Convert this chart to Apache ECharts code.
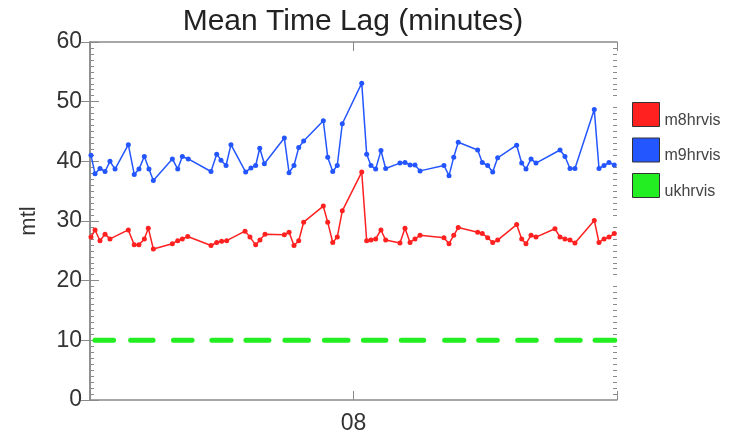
<!DOCTYPE html>
<html>
<head>
<meta charset="utf-8">
<script src="https://cdn.jsdelivr.net/npm/echarts@6/dist/echarts.min.js"></script>
<style>
html,body{margin:0;padding:0;background:#fff;}
#chart{width:744px;height:440px;}
</style>
</head>
<body>
<div id="chart"></div>
<script>
// x values: hours from start of plotted window (tick "08" at hour 24)
var xTickLabels = {24: '08'};
var m9Times = [0.09,0.46,0.91,1.37,1.82,2.28,3.49,4.03,4.46,4.95,5.37,5.77,7.50,7.99,8.41,8.95,11.02,11.54,11.93,12.39,12.84,14.18,14.66,15.09,15.46,15.88,17.70,18.13,18.58,19.01,19.46,21.25,21.65,22.11,22.52,22.98,24.75,25.20,25.59,26.02,26.50,26.93,28.23,28.69,29.15,29.60,30.06,32.24,32.70,33.13,33.54,35.31,35.73,36.22,36.68,37.13,38.86,39.32,39.71,40.17,40.62,42.81,43.26,43.72,44.17,45.93,46.36,46.82,47.27,47.75];
var m9Values = [41.0,37.9,38.8,38.3,40.0,38.7,42.8,37.8,38.7,40.8,38.7,36.8,40.4,38.7,40.8,40.4,38.3,41.2,40.2,39.3,42.8,38.2,38.9,39.3,42.2,39.6,43.9,38.1,39.3,42.3,43.4,46.8,40.7,38.3,39.3,46.3,53.1,41.2,39.3,38.7,41.8,38.8,39.7,39.8,39.4,39.4,38.4,39.3,37.6,40.7,43.2,41.9,39.8,39.3,38.2,40.6,42.7,39.7,38.7,40.4,39.7,41.9,40.8,38.8,38.8,48.7,38.8,39.3,39.8,39.4];
var m8Times = [0.09,0.46,0.91,1.37,1.82,3.49,4.03,4.46,4.95,5.31,5.77,7.50,7.99,8.41,8.90,11.02,11.54,11.99,12.45,14.12,14.57,15.09,15.48,15.94,17.70,18.13,18.58,19.01,19.46,21.25,21.65,22.11,22.52,22.98,24.75,25.20,25.59,26.02,26.50,26.93,28.23,28.69,29.15,29.60,30.06,32.24,32.70,33.13,33.54,35.31,35.73,36.22,36.68,37.13,38.86,39.32,39.71,40.17,40.62,42.35,42.81,43.26,43.72,44.17,45.93,46.36,46.82,47.27,47.75];
var m8Values = [27.3,28.5,26.7,27.8,27.0,28.5,26.0,26.0,27.0,28.8,25.3,26.2,26.7,27.0,27.4,25.9,26.4,26.6,26.7,28.3,27.3,26.0,26.8,27.8,27.7,28.1,25.9,26.7,29.8,32.5,29.8,26.4,27.3,31.7,38.2,26.7,26.8,27.0,28.5,26.8,26.3,28.8,26.4,27.0,27.6,27.2,26.2,27.6,28.9,28.1,27.9,27.2,26.4,26.8,29.4,27.0,26.2,27.6,27.3,28.7,27.3,27.0,26.8,26.3,30.1,26.4,27.0,27.3,27.9];
// ukhrvis: constant level drawn in separate stretches (start, end hours)
var ukSegments = [[0.45,2.15],[3.7,5.75],[7.6,9.3],[11.1,12.85],[14.2,16.3],[17.75,19.9],[21.35,23.5],[24.9,26.95],[28.35,30.4],[32.3,34.05],[35.4,37.1],[38.95,40.65],[42.5,44.65],[46.0,47.8]];
var ukValue = 10;
var seriesNames = ['m8hrvis','m9hrvis','ukhrvis'];
var seriesColors = ['#ff2020','#2456ff','#22ee22'];

function pairs(xs, ys){ return xs.map(function(x,i){ return [x, ys[i]]; }); }
var ukData = [];
ukSegments.forEach(function(s){ ukData.push([s[0], ukValue]); ukData.push([s[1], ukValue]); ukData.push([s[1], '-']); });

var font = 'Liberation Sans, Arial, Helvetica, sans-serif';
var axisGray = '#8a8a8a';
var gridLeft = 90, gridRight = 127, plotW = 744 - gridLeft - gridRight;
function yAxisCfg(pos, showLabel){
  return {
    type:'value', position:pos, min:0, max:60, interval:10,
    name: showLabel ? 'mtl' : '', nameLocation:'middle', nameGap:50, nameRotate:90,
    nameTextStyle:{fontFamily:font, fontSize:22, color:'#333'},
    axisLine:{show:true, lineStyle:{color:axisGray, width:1.5}},
    axisTick:{show:true, inside:true, length:9, lineStyle:{color:axisGray}},
    minorTick:{show:false},
    splitLine:{show:false}, minorSplitLine:{show:false},
    axisLabel:{show:showLabel, fontFamily:font, fontSize:23, color:'#333', margin:8}
  };
}
// helper axes placed on the opposite edge so their minor ticks point into the plot
function yMinorCfg(pos){
  return {
    type:'value', position:pos, offset:-plotW, min:0, max:60, interval:10,
    axisLine:{show:false}, axisTick:{show:false}, axisLabel:{show:false},
    splitLine:{show:false}, minorSplitLine:{show:false},
    minorTick:{show:true, splitNumber:10, length:4, lineStyle:{color:axisGray}}
  };
}
function xAxisCfg(pos, showLabel){
  return {
    type:'value', position:pos, min:0, max:48, interval:24,
    axisLine:{show:true, onZero:false, lineStyle:{color:axisGray, width:1.5}},
    axisTick:{show:true, inside:true, length:9, lineStyle:{color:axisGray}},
    splitLine:{show:false},
    axisLabel:{show:showLabel, fontFamily:font, fontSize:23, color:'#333', margin:12,
      formatter:function(v){ return xTickLabels[v] || ''; }}
  };
}

var chart = echarts.init(document.getElementById('chart'), null, {renderer:'canvas'});
chart.setOption({
  backgroundColor:'#ffffff',
  animation:false,
  title:{text:'Mean Time Lag (minutes)', left:348, textAlign:'center', top:2,
    textStyle:{fontFamily:font, fontSize:30, fontWeight:'normal', color:'#222'}},
  legend:{orient:'vertical', left:632, top:102, padding:0, itemWidth:27, itemHeight:24, itemGap:9,
    icon:'rect', data:seriesNames,
    formatter:'{a|{name}}',
    textStyle:{fontFamily:font, fontSize:16, color:'#444',
      rich:{a:{fontFamily:font, fontSize:16, color:'#444', padding:[12,0,0,0]}}},
    itemStyle:{borderColor:'#333', borderWidth:1}},
  grid:{left:gridLeft, right:gridRight, top:42, bottom:40, containLabel:false},
  xAxis:[xAxisCfg('bottom', true), xAxisCfg('top', false)],
  yAxis:[yAxisCfg('left', true), yAxisCfg('right', false), yMinorCfg('right'), yMinorCfg('left')],
  series:[
    {name:seriesNames[0], type:'line', data:pairs(m8Times, m8Values), color:seriesColors[0],
      symbol:'circle', symbolSize:5, lineStyle:{width:1.5}, itemStyle:{color:seriesColors[0]}},
    {name:seriesNames[1], type:'line', data:pairs(m9Times, m9Values), color:seriesColors[1],
      symbol:'circle', symbolSize:5, lineStyle:{width:1.5}, itemStyle:{color:seriesColors[1]}},
    {name:seriesNames[2], type:'line', data:ukData, color:seriesColors[2], connectNulls:false,
      symbol:'none', lineStyle:{width:5, cap:'round'}, itemStyle:{color:seriesColors[2]}}
  ]
});
</script>
</body>
</html>
